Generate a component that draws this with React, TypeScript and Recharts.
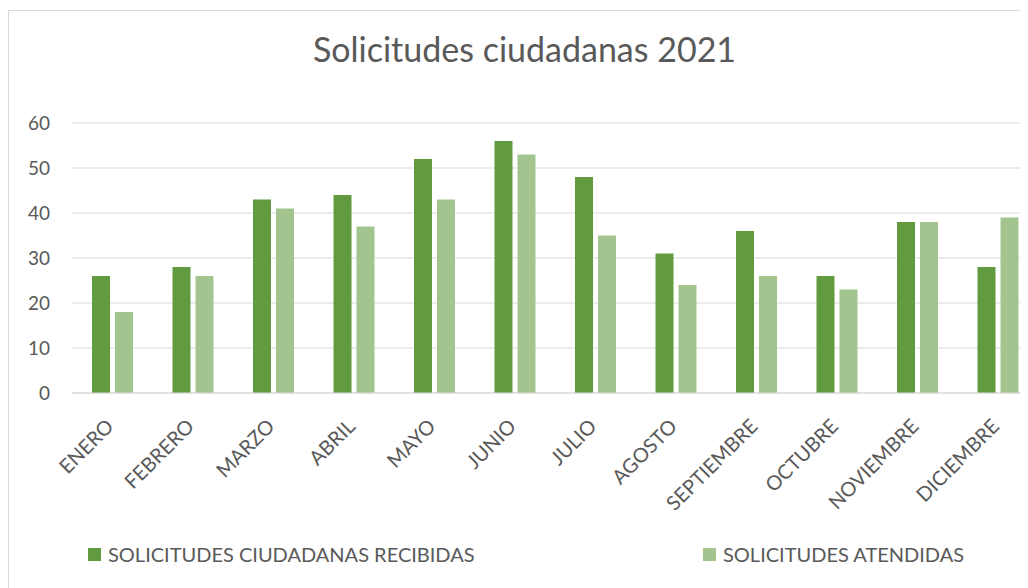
import { BarChart, Bar, XAxis, YAxis, CartesianGrid } from "recharts";

const MONTHS = [
  "ENERO",
  "FEBRERO",
  "MARZO",
  "ABRIL",
  "MAYO",
  "JUNIO",
  "JULIO",
  "AGOSTO",
  "SEPTIEMBRE",
  "OCTUBRE",
  "NOVIEMBRE",
  "DICIEMBRE",
];
const RECIBIDAS = [26, 28, 43, 44, 52, 56, 48, 31, 36, 26, 38, 28];
const ATENDIDAS = [18, 26, 41, 37, 43, 53, 35, 24, 26, 23, 38, 39];
const Y_TICKS = [0, 10, 20, 30, 40, 50, 60];

const SERIES = [
  { key: "recibidas", name: "SOLICITUDES CIUDADANAS RECIBIDAS", color: "#629B3F", left: 80 },
  { key: "atendidas", name: "SOLICITUDES ATENDIDAS", color: "#A2C58F", left: 695 },
];

const data = MONTHS.map((m, i) => ({
  month: m,
  recibidas: RECIBIDAS[i],
  atendidas: ATENDIDAS[i],
}));

const FONT = "Lato, 'Open Sans', sans-serif";
const TEXT = "#595959";

function MonthTick(props: any) {
  const { x, y, payload } = props;
  return (
    <g transform={`translate(${x - 3},${y + 21}) rotate(-45)`}>
      <text
        x={0}
        y={0}
        textAnchor="end"
        dominantBaseline="central"
        fill={TEXT}
        fontSize={20}
        fontFamily={FONT}
      >
        {payload.value}
      </text>
    </g>
  );
}

export default function App() {
  return (
    <div
      style={{
        position: "relative",
        width: 1020,
        height: 580,
        overflow: "hidden",
        paddingTop: 2,
        boxSizing: "border-box",
        fontFamily: FONT,
        background: "#fff",
      }}
    >
      <div
        style={{
          borderTop: "1px solid #d9d9d9",
          borderLeft: "1px solid #d9d9d9",
          width: 1060,
          height: 620,
        }}
      >
        <BarChart
          width={1040}
          height={600}
          data={data}
          margin={{ top: 112, right: 11, bottom: 0, left: 0 }}
          barSize={18}
          barGap={5}
        >
          <CartesianGrid vertical={false} stroke="#d9d9d9" strokeWidth={1} />
          <XAxis
            dataKey="month"
            height={218}
            interval={0}
            axisLine={{ stroke: "#d9d9d9" }}
            tickLine={false}
            tick={<MonthTick />}
          />
          <YAxis
            width={63}
            domain={[0, 60]}
            ticks={Y_TICKS}
            axisLine={false}
            tickLine={false}
            tickMargin={16}
            tick={{ fill: TEXT, fontSize: 19, fontFamily: FONT }}
          />
          {SERIES.map((s) => (
            <Bar
              key={s.key}
              dataKey={s.key}
              name={s.name}
              fill={s.color}
              isAnimationActive={false}
            />
          ))}
        </BarChart>
      </div>
      <div
        style={{
          position: "absolute",
          left: 0,
          top: 21,
          width: 1033,
          textAlign: "center",
          fontSize: 34,
          lineHeight: "40px",
          color: TEXT,
        }}
      >
        Solicitudes ciudadanas 2021
      </div>
      {SERIES.map((s) => (
        <div key={s.key}>
          <div
            style={{
              position: "absolute",
              left: s.left,
              top: 540,
              width: 13,
              height: 13,
              background: s.color,
            }}
          />
          <div
            style={{
              position: "absolute",
              left: s.left + 20,
              top: 534,
              fontSize: 20,
              lineHeight: "24px",
              color: TEXT,
              whiteSpace: "nowrap",
            }}
          >
            {s.name}
          </div>
        </div>
      ))}
    </div>
  );
}
